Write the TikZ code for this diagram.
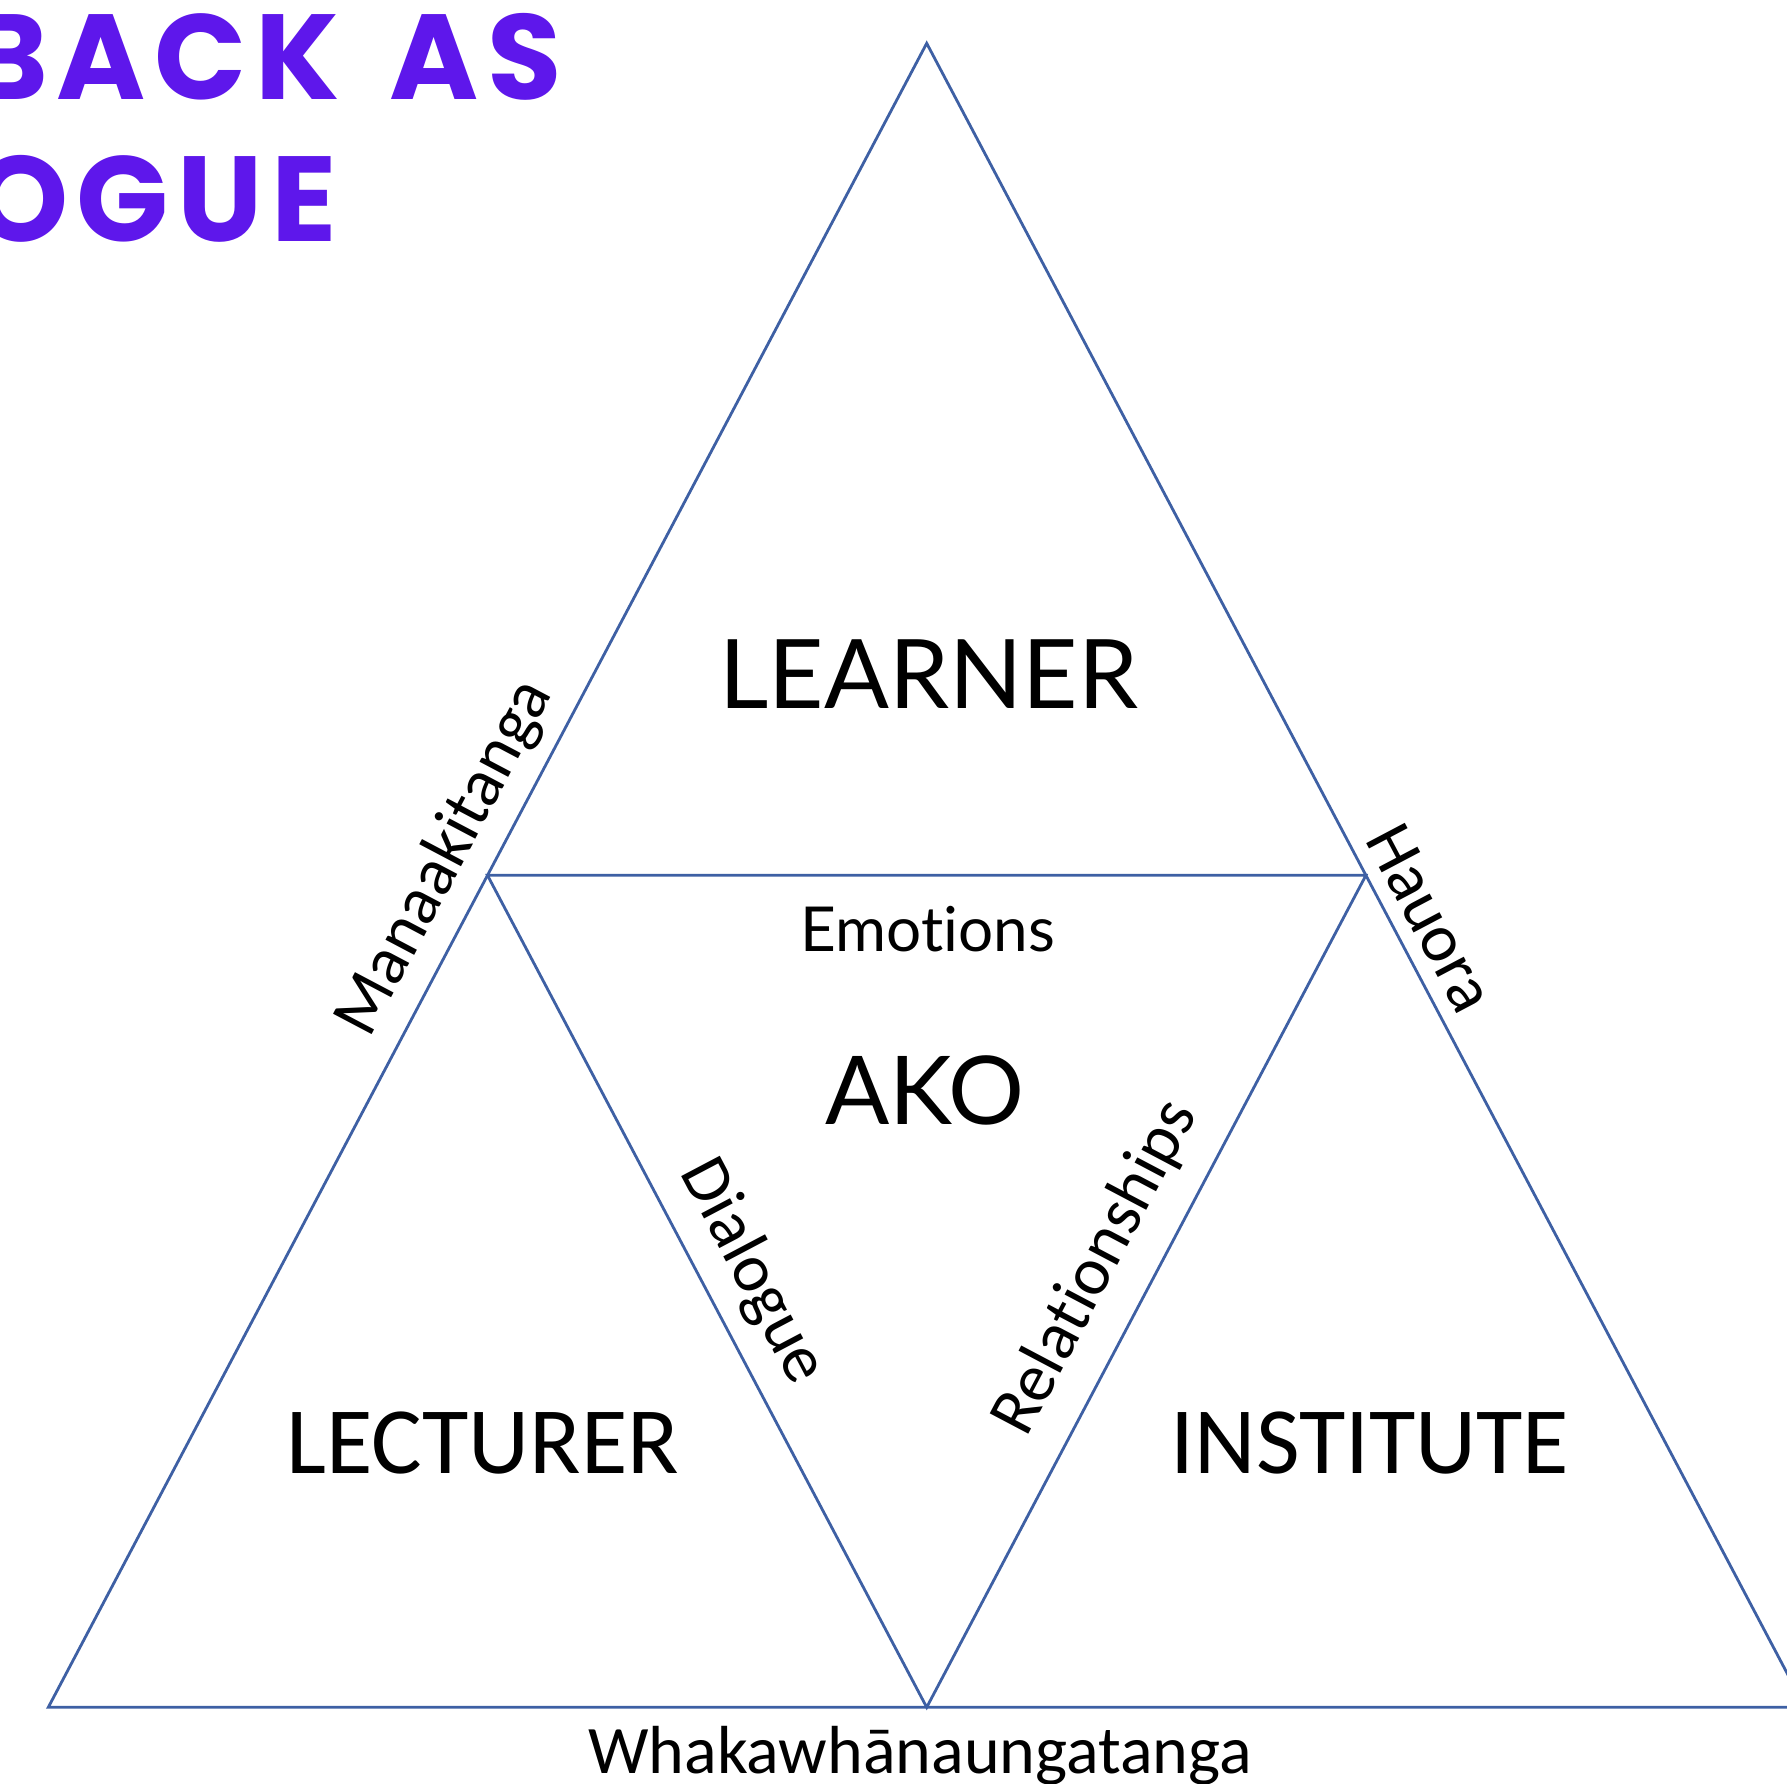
\documentclass[tikz,border=0pt]{standalone}
\usepackage{fontspec}
\setmainfont{Carlito}[Ligatures=NoCommon]
\newfontfamily\avfont{Lato}[Ligatures=NoCommon]
\newfontfamily\titlefont{Poppins}[LetterSpace=7]
\definecolor{edgeblue}{RGB}{62,96,164}
\definecolor{titlepurple}{RGB}{94,23,235}
\begin{document}
\begin{tikzpicture}[x=1pt,y=-1pt,
  edge/.style={draw=edgeblue,line width=2.8pt,line join=miter},
  lbl/.style={inner sep=0pt,text=black},
  bigword/.style={lbl,font=\avfont\fontsize{96}{100}\selectfont},
  sideword/.style={lbl,font=\fontsize{68}{72}\selectfont},
  cornerword/.style={lbl,font=\fontsize{95}{100}\selectfont},
  heading/.style={inner sep=0pt,text=titlepurple,font=\titlefont\bfseries\fontsize{121}{126}\selectfont,anchor=base east}]
\clip (0,0) rectangle (1787,1783);
\fill[white] (0,0) rectangle (1787,1783);

% heading, running off the left edge
\node[heading] (head1) at (562,99.3) {BACK\hspace{16pt} AS};
\node[heading] (head2) at (337,241) {OGUE};

% corners of the large triangle and the midpoints of its sides
\coordinate (apex) at (926.7,43.3);
\coordinate (lcorner) at (48.3,1707.3);
\coordinate (rcorner) at (1805.1,1707.3);
\coordinate (lmid) at (487.5,875.3);
\coordinate (rmid) at (1365.9,875.3);
\coordinate (bmid) at (926.7,1707.3);

\draw[edge] (apex) -- (lcorner) -- (rcorner) -- cycle;
\draw[edge] (lmid) -- (rmid) -- (bmid) -- cycle;

% the four regions
\node[bigword] (learner) at (929,674) {LEARNER};
\node[lbl,font=\avfont\fontsize{95}{100}\selectfont] (ako) at (925,1090) {AKO};
\node[lbl,font=\avfont\fontsize{62}{66}\selectfont] (emotions) at (928,929) {Emotions};
\node[cornerword] (lecturer) at (483,1443) {LECTURER};
\node[cornerword] (institute) at (1370,1443) {INSTITUTE};

% words along the sides
\node[sideword,rotate=62.17] (mana) at (445.5,858.5) {Manaakitanga};
\node[sideword,rotate=-62.17] (hauora) at (1431,918) {Hauora};
\node[sideword,rotate=-62.17] (dialogue) at (752,1272) {Dialogue};
\node[sideword,rotate=62.17] (relations) at (1096,1268) {Relationships};
\node[sideword,anchor=base] (whaka) at (920,1773.3) {Whakawhānaungatanga};
\end{tikzpicture}
\end{document}
